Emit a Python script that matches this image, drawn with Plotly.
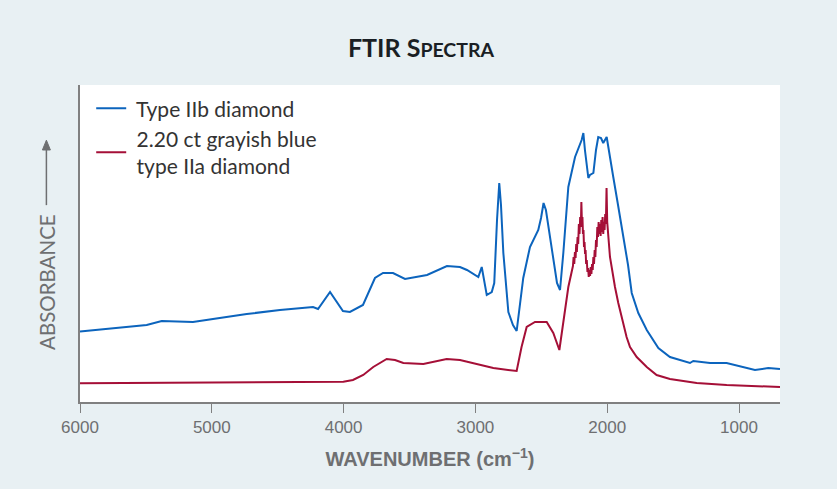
import plotly.graph_objects as go

# Type IIb diamond (blue) - wavenumber (cm-1) and absorbance (arbitrary units)
iib_wn = [6000, 5494, 5380, 5143, 4991, 4735, 4483, 4232, 4194, 4103, 4005, 3952, 3853,
          3762, 3701, 3625, 3534, 3367, 3216, 3117, 3064, 2978, 2952, 2914, 2876, 2857,
          2836, 2819, 2806, 2788, 2750, 2715, 2687, 2662, 2637, 2586, 2523, 2502, 2483,
          2465, 2442, 2409, 2381, 2358, 2333, 2295, 2244, 2194, 2181, 2169, 2143, 2131,
          2105, 2085, 2068, 2047, 2030, 2004, 1979, 1954, 1918, 1878, 1842, 1814, 1764,
          1700, 1612, 1524, 1372, 1347, 1220, 1094, 968, 879, 778, 689]
iib_abs = [0.705, 0.77, 0.81, 0.80, 0.83, 0.88, 0.92, 0.95, 0.93, 1.10, 0.91, 0.90, 0.97,
           1.24, 1.29, 1.29, 1.23, 1.27, 1.36, 1.35, 1.32, 1.25, 1.35, 1.07, 1.10, 1.19,
           1.82, 2.19, 1.97, 1.49, 0.90, 0.77, 0.71, 0.97, 1.24, 1.55, 1.72, 1.84, 1.99,
           1.92, 1.72, 1.42, 1.19, 1.12, 1.49, 2.15, 2.45, 2.62, 2.69, 2.52, 2.24, 2.27,
           2.29, 2.52, 2.65, 2.64, 2.59, 2.65, 2.47, 2.25, 1.97, 1.65, 1.37, 1.09, 0.89,
           0.72, 0.54, 0.45, 0.39, 0.41, 0.39, 0.39, 0.35, 0.32, 0.34, 0.33]

# 2.20 ct grayish blue type IIa diamond (red)
iia_wn = [6000, 4483, 4002, 3929, 3851, 3775, 3673, 3610, 3547, 3395, 3218, 3117, 2965,
          2864, 2687, 2650, 2611, 2548, 2459, 2409, 2363, 2333, 2295, 2260, 2255, 2250,
          2245, 2240, 2235, 2230, 2225, 2220, 2215, 2210, 2205, 2200, 2196, 2192, 2188,
          2184, 2180, 2176, 2172, 2168, 2164, 2160, 2155, 2150, 2145, 2140, 2135, 2130,
          2125, 2120, 2115, 2110, 2105, 2100, 2095, 2090, 2085, 2080, 2075, 2070, 2065,
          2060, 2055, 2050, 2045, 2040, 2035, 2030, 2025, 2020, 2015, 2010, 2005, 2000,
          1995, 1990, 1985, 1979, 1941, 1916, 1853, 1827, 1776, 1700, 1625, 1524,
          1321, 1094, 689]
iia_abs = [0.187, 0.197, 0.203, 0.22, 0.27, 0.35, 0.43, 0.42, 0.39, 0.38, 0.43, 0.42, 0.37,
           0.34, 0.31, 0.55, 0.75, 0.80, 0.80, 0.69, 0.52, 0.82, 1.15, 1.36, 1.45, 1.38,
           1.50, 1.44, 1.58, 1.50, 1.65, 1.58, 1.78, 1.68, 1.85, 1.75, 2.00, 1.80, 1.85,
           1.68, 1.72, 1.55, 1.60, 1.48, 1.52, 1.38, 1.42, 1.30, 1.34, 1.25, 1.32, 1.26,
           1.35, 1.28, 1.38, 1.32, 1.45, 1.38, 1.52, 1.45, 1.62, 1.55, 1.75, 1.65, 1.80,
           1.68, 1.78, 1.66, 1.82, 1.70, 1.85, 1.68, 1.80, 1.72, 1.88, 1.78, 2.14, 1.80,
           1.72, 1.60, 1.50, 1.45, 1.15, 0.99, 0.65, 0.55, 0.45, 0.35, 0.27, 0.23,
           0.19, 0.17, 0.15]

x_ticks = [6000, 5000, 4000, 3000, 2000, 1000]
series_names = ["\u00a0Type IIb diamond", "\u00a02.20 ct grayish blue<br>\u00a0type IIa diamond"]

BLUE = "#0c64bd"
RED = "#a50f37"
GRAY = "#6e6f71"
BG = "#e8f0f3"
NARROW = "Liberation Sans Narrow, Arial Narrow, sans-serif"

fig = go.Figure()
fig.add_trace(go.Scatter(x=iib_wn, y=iib_abs, mode="lines", name=series_names[0],
                         legendgroup="a", line=dict(color=BLUE, width=2)))
fig.add_trace(go.Scatter(x=iia_wn, y=iia_abs, mode="lines", name=series_names[1],
                         legendgroup="b", line=dict(color=RED, width=2)))

fig.update_layout(
    width=837, height=489,
    paper_bgcolor=BG, plot_bgcolor="white",
    margin=dict(l=80, r=57, t=85, b=87),
    showlegend=True,
    legend=dict(x=0.016, y=0.99, xanchor="left", yanchor="top",
                bgcolor="rgba(0,0,0,0)", font=dict(family="Lato", size=21, color="#333333"),
                tracegroupgap=0),
    title=dict(text="<b>FTIR S<span style='font-size:19.5px'>PECTRA</span></b>",
               x=0.503, xanchor="center", y=0.902, yanchor="middle",
               font=dict(family="Lato", size=25, color="#1a1f24")),
    xaxis=dict(range=[6000, 689], tickvals=x_ticks, ticktext=[str(v) for v in x_ticks],
               showgrid=False, zeroline=False, showline=True, linecolor="#808080", linewidth=2,
               ticks="outside", ticklen=9, tickcolor="#808080", tickwidth=1,
               tickfont=dict(family=NARROW, size=17, color=GRAY),
               title=dict(text="<b>WAVENUMBER (cm<sup>−1</sup>)</b>", standoff=16,
                          font=dict(family=NARROW, size=20, color=GRAY))),
    yaxis=dict(range=[0, 3.17], showticklabels=False, showgrid=False, zeroline=False,
               showline=True, linecolor="#808080", linewidth=2, ticks=""),
)

fig.add_annotation(text="ABSORBANCE", textangle=-90, xref="paper", yref="paper",
                   x=-0.048, y=0.38, xanchor="center", yanchor="middle", showarrow=False,
                   font=dict(family="Lato", size=20.5, color=GRAY))
# arrow beside the y-axis label: shaft and head
ax_x = -0.048
fig.add_shape(type="line", xref="paper", yref="paper", x0=ax_x, x1=ax_x, y0=0.621, y1=0.81,
              line=dict(color=GRAY, width=1.5))
fig.add_shape(type="path", xref="paper", yref="paper",
              path=f"M {ax_x - 0.0057} 0.795 L {ax_x} 0.826 L {ax_x + 0.0057} 0.795 Z",
              fillcolor=GRAY, line=dict(color=GRAY, width=1))

fig.write_html("out.html", config={"displayModeBar": False},
               post_script="document.body.style.margin='0';document.body.style.background='%s';" % BG)
